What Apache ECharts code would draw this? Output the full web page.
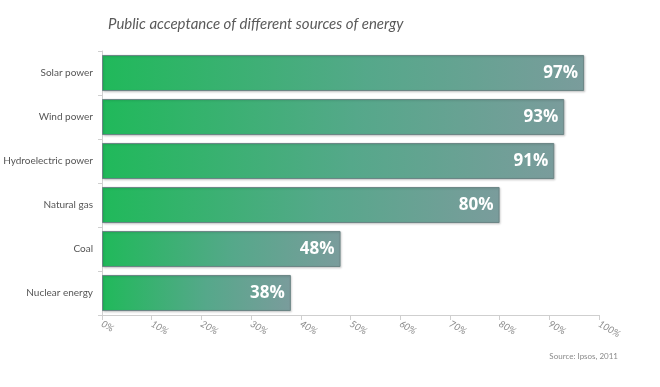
<!DOCTYPE html>
<html>
<head>
<meta charset="utf-8">
<script src="https://cdn.jsdelivr.net/npm/echarts@6/dist/echarts.min.js"></script>
<style>html,body{margin:0;padding:0;background:#fff}#c{width:660px;height:387px}</style>
</head>
<body>
<div id="c"></div>
<script>
var categories = ['Solar power','Wind power','Hydroelectric power','Natural gas','Coal','Nuclear energy'];
var values = [97, 93, 91, 80, 48, 38];
var xTicks = {min: 0, max: 100, interval: 10};
var titleText = 'Public acceptance of different sources of energy';
var sourceText = 'Source: Ipsos, 2011';

var chart = echarts.init(document.getElementById('c'), null, {renderer: 'canvas'});
chart.setOption({
  backgroundColor: '#ffffff',
  animation: false,
  title: {
    text: titleText,
    left: 103, top: 12,
    textStyle: {fontFamily: 'Lato', fontStyle: 'italic', fontWeight: 'normal', fontSize: 15, color: '#5a5a5a'}
  },
  graphic: [{
    type: 'text', right: 42, top: 352,
    style: {text: sourceText, fill: '#8a8a8a', font: '8px Lato'}
  }],
  grid: {left: 102, right: 61, top: 51, bottom: 72, containLabel: false, outerBoundsMode: 'none'},
  xAxis: {
    type: 'value', min: xTicks.min, max: xTicks.max, interval: xTicks.interval,
    axisLine: {show: true, lineStyle: {color: '#cfcfcf', width: 1}},
    axisTick: {show: true, length: 5, lineStyle: {color: '#cfcfcf'}},
    splitLine: {show: false},
    axisLabel: {formatter: '{value}%', rotate: -30, color: '#8a8a8a', fontSize: 9.5, fontStyle: 'italic', fontFamily: 'Lato', margin: 8}
  },
  yAxis: {
    type: 'category', data: categories, inverse: true,
    axisLine: {show: true, lineStyle: {color: '#d0d0d0'}},
    axisTick: {show: true, length: 4, lineStyle: {color: '#d0d0d0'}},
    axisLabel: {color: '#555555', fontSize: 10, fontFamily: 'Lato', margin: 9}
  },
  series: [{
    type: 'bar', data: values, barCategoryGap: '18%',
    itemStyle: {
      color: new echarts.graphic.LinearGradient(0, 0, 1, 0, [
        {offset: 0, color: '#20b95a'},
        {offset: 0.55, color: '#55a88a'},
        {offset: 1, color: '#7a9c9c'}
      ]),
      borderColor: '#6b8585', borderWidth: 1,
      shadowColor: 'rgba(0,0,0,0.15)', shadowBlur: 2, shadowOffsetX: 1, shadowOffsetY: 1
    },
    label: {
      show: true, position: 'insideRight', distance: 6,
      formatter: '{c}%', color: '#ffffff', fontSize: 17, fontWeight: 'bold', fontFamily: 'Open Sans'
    }
  }]
});
</script>
</body>
</html>
